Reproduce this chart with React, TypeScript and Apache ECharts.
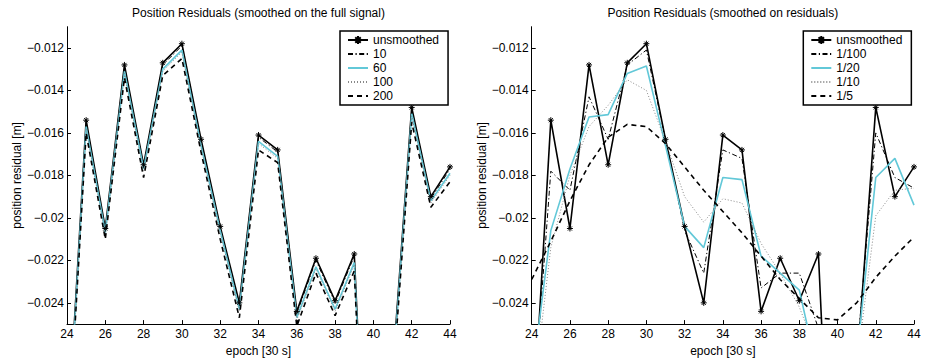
import React, { useEffect, useRef } from "react";
import * as echarts from "echarts";

const EPOCHS = [24, 25, 26, 27, 28, 29, 30, 31, 32, 33, 34, 35, 36, 37, 38, 39, 40, 41, 42, 43, 44];

const UNSMOOTHED = [-0.0309, -0.0154, -0.0205, -0.0128, -0.0175, -0.0127, -0.0118, -0.0163, -0.0204, -0.024, -0.0161, -0.0168, -0.0244, -0.0219, -0.0239, -0.0217, -0.0411, -0.0272, -0.0148, -0.019, -0.0176];

// left panel: smoothed on the full signal
const FULL_10 = [-0.031, -0.0155, -0.0206, -0.0129, -0.0176, -0.0128, -0.0119, -0.0164, -0.0205, -0.0241, -0.0162, -0.0169, -0.0245, -0.022, -0.024, -0.0218, -0.0412, -0.0273, -0.0149, -0.0191, -0.0177];
const FULL_60 = [-0.0312, -0.0157, -0.0207, -0.0131, -0.0177, -0.013, -0.0121, -0.0166, -0.0206, -0.0243, -0.0164, -0.0171, -0.0247, -0.0223, -0.0243, -0.0221, -0.0414, -0.0275, -0.0151, -0.0192, -0.0179];
const FULL_100 = [-0.0313, -0.0158, -0.0208, -0.0132, -0.0178, -0.0131, -0.0122, -0.0167, -0.0207, -0.0244, -0.0165, -0.0172, -0.0248, -0.0224, -0.0244, -0.0222, -0.0415, -0.0276, -0.0152, -0.0193, -0.018];
const FULL_200 = [-0.0316, -0.016, -0.021, -0.0134, -0.0181, -0.0133, -0.0125, -0.0169, -0.021, -0.0247, -0.0168, -0.0174, -0.0251, -0.0226, -0.0246, -0.0225, -0.0418, -0.0279, -0.0155, -0.0195, -0.0183];

// right panel: smoothed on residuals
const RES_1_100 = [-0.030, -0.0178, -0.0187, -0.0143, -0.0163, -0.0128, -0.0121, -0.0163, -0.0206, -0.0226, -0.0168, -0.0172, -0.0233, -0.0226, -0.0226, -0.0252, -0.036, -0.0266, -0.016, -0.0181, -0.0186];
const RES_1_20 = [-0.0277, -0.0206, -0.0177, -0.01525, -0.01514, -0.0132, -0.01285, -0.0166, -0.0204, -0.0214, -0.0181, -0.0182, -0.0218, -0.0226, -0.0234, -0.0274, -0.030, -0.0266, -0.0181, -0.0172, -0.0194];
const RES_1_10 = [-0.029, -0.0214, -0.018, -0.0157, -0.0147, -0.0135, -0.014, -0.0164, -0.019, -0.0202, -0.0191, -0.0193, -0.0212, -0.0226, -0.0242, -0.0265, -0.029, -0.027, -0.0199, -0.0187, -0.0186];
const RES_1_5 = [-0.0229, -0.0211, -0.0192, -0.0175, -0.0162, -0.0156, -0.0157, -0.0165, -0.0176, -0.0187, -0.0197, -0.0207, -0.0218, -0.0229, -0.0238, -0.0247, -0.0248, -0.024, -0.0228, -0.0218, -0.0209];

const Y_TICKS = [-0.024, -0.022, -0.02, -0.018, -0.016, -0.014, -0.012];

const TITLE_LEFT = "Position Residuals (smoothed on the full signal)";
const TITLE_RIGHT = "Position Residuals (smoothed on residuals)";
const X_NAME = "epoch [30 s]";
const Y_NAME = "position residual [m]";

const LEFT_NAMES = ["unsmoothed", "10", "60", "100", "200"];
const RIGHT_NAMES = ["unsmoothed", "1/100", "1/20", "1/10", "1/5"];

const FONT = "'Liberation Sans', Arial, Helvetica, sans-serif";
const CYAN = "#62c8d8";
const ASTERISK = "path://M5,0L5,10M0,5L10,5M1.6,1.6L8.4,8.4M1.6,8.4L8.4,1.6";

const pairs = (vals: number[]) => EPOCHS.map((x, i) => [x, vals[i]]);

const styles = [
  { color: "#000", width: 1.6, type: "solid" as any, symbol: true },
  { color: "#000", width: 1, type: [5, 2.5, 1.2, 2.5], symbol: false },
  { color: CYAN, width: 1.6, type: "solid" as any, symbol: false },
  { color: "#888", width: 1, type: [1, 2], symbol: false },
  { color: "#000", width: 1.6, type: [5, 4], symbol: false },
];

function makeSeries(names: string[], datasets: number[][], idx: number) {
  return datasets.map((d, i) => {
    const s = styles[i];
    return {
      type: "line",
      name: names[i],
      xAxisIndex: idx,
      yAxisIndex: idx,
      data: pairs(d),
      symbol: s.symbol ? ASTERISK : "none",
      symbolSize: 6,
      showSymbol: s.symbol,
      itemStyle: s.symbol
        ? { color: "rgba(0,0,0,0)", borderColor: "#000", borderWidth: 1 }
        : { color: s.color },
      lineStyle: { color: s.color, width: s.width, type: s.type },
      clip: true,
      silent: true,
    };
  });
}

function legendData(names: string[]) {
  return names.map((n, i) =>
    styles[i].symbol ? { name: n } : { name: n, itemStyle: { opacity: 0, borderWidth: 0 } }
  );
}

const fmtY = (v: number) => {
  const r = Math.round(v * 1000) / 1000;
  return (r < 0 ? "\u2212" : "") + String(Math.abs(r));
};

function App() {
  const ref = useRef<HTMLDivElement>(null);
  useEffect(() => {
    document.body.style.margin = "0";
    if (!ref.current) return;
    const chart = echarts.init(ref.current, null, { renderer: "svg" });
    const grids = [
      { left: 67, top: 26.7, width: 383, height: 301.6 },
      { left: 531.7, top: 26.7, width: 382.3, height: 301.6 },
    ];
    const xAxes = grids.map((_, i) => ({
      type: "value",
      gridIndex: i,
      min: 24,
      max: 44,
      interval: 2,
      name: X_NAME,
      nameLocation: "middle",
      nameGap: 16,
      nameTextStyle: { color: "#000", fontSize: 12, fontFamily: FONT },
      axisLine: { show: true, lineStyle: { color: "#000", width: 1 } },
      axisTick: { show: true, inside: true, length: 4, lineStyle: { color: "#000" } },
      axisLabel: { color: "#000", fontSize: 12, fontFamily: FONT, margin: 4 },
      splitLine: { show: false },
    }));
    const yAxes = grids.map((_, i) => ({
      type: "value",
      gridIndex: i,
      min: -0.025,
      max: -0.011,
      name: Y_NAME,
      nameLocation: "middle",
      nameGap: 43,
      nameTextStyle: { color: "#000", fontSize: 12, fontFamily: FONT },
      axisLine: { show: true, lineStyle: { color: "#000", width: 1 } },
      axisTick: { show: true, inside: true, length: 4, lineStyle: { color: "#000" }, customValues: Y_TICKS },
      axisLabel: {
        color: "#000",
        fontSize: 12,
        fontFamily: FONT,
        margin: 3,
        customValues: Y_TICKS,
        formatter: fmtY,
      },
      splitLine: { show: false },
    }));
    const legendBase = {
      orient: "vertical",
      top: 31,
      backgroundColor: "#fff",
      borderColor: "#000",
      borderWidth: 1.5,
      padding: [3, 9, 3, 7],
      itemWidth: 20,
      itemHeight: 10,
      itemGap: 2,
      selectedMode: false,
      textStyle: { color: "#000", fontSize: 12, fontFamily: FONT, lineHeight: 12 },
    };
    chart.setOption({
      animation: false,
      backgroundColor: "#fff",
      grid: grids,
      xAxis: xAxes,
      yAxis: yAxes,
      legend: [
        { ...legendBase, left: 340, data: legendData(LEFT_NAMES) },
        { ...legendBase, left: 803.3, data: legendData(RIGHT_NAMES) },
      ],
      graphic: [
        {
          type: "text",
          x: 258.5,
          y: 13.3,
          style: { text: TITLE_LEFT, align: "center", verticalAlign: "middle", fontSize: 12, fontFamily: FONT, fill: "#000" },
        },
        {
          type: "text",
          x: 722.8,
          y: 13.3,
          style: { text: TITLE_RIGHT, align: "center", verticalAlign: "middle", fontSize: 12, fontFamily: FONT, fill: "#000" },
        },
      ],
      series: [
        ...makeSeries(LEFT_NAMES, [UNSMOOTHED, FULL_10, FULL_60, FULL_100, FULL_200], 0),
        ...makeSeries(RIGHT_NAMES, [UNSMOOTHED, RES_1_100, RES_1_20, RES_1_10, RES_1_5], 1),
      ],
    });
    return () => chart.dispose();
  }, []);
  return <div ref={ref} style={{ width: 935, height: 362 }} />;
}

export default App;
